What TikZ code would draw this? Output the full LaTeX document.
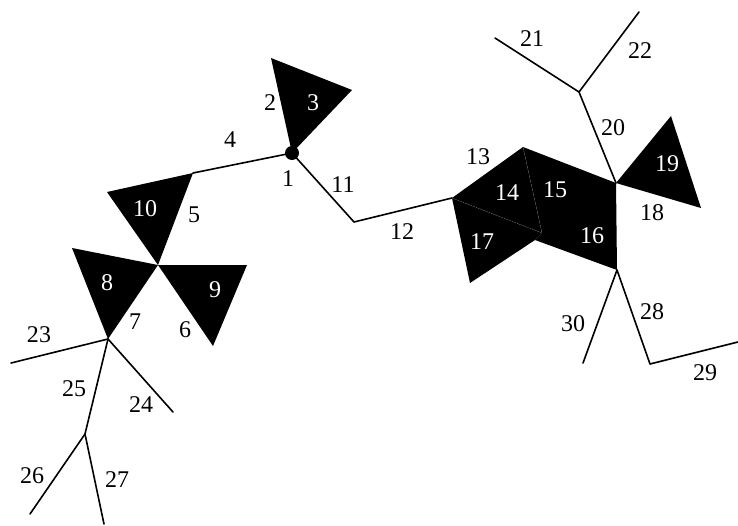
\documentclass[tikz,border=0pt]{standalone}
\usepackage{fontspec}
\setmainfont{Liberation Serif}
\begin{document}
\begin{tikzpicture}[x=1pt,y=-1pt,
  edge/.style={line width=1.6pt, line cap=round, line join=round},
  tri/.style={fill=black},
  seam/.style={draw=black!55, line width=0.4pt, dash pattern=on 1pt off 1pt},
  lbl/.style={font=\fontsize{24}{28}\selectfont, inner sep=0pt},
  wl/.style={lbl, text=white}]
\useasboundingbox (0,0) rectangle (738,525);
% vertices
\coordinate (v1) at (292,153);
\coordinate (t3a) at (271,58);
\coordinate (t3b) at (352,90);
\coordinate (v4) at (193,173);
\coordinate (t10a) at (107,192);
\coordinate (v5) at (158,265);
\coordinate (t8a) at (72,248);
\coordinate (v7) at (108,339);
\coordinate (t9a) at (247,265);
\coordinate (t9b) at (213,346);
\coordinate (v23) at (11,363);
\coordinate (v24) at (173,412);
\coordinate (v25) at (85,434);
\coordinate (v26) at (30,514);
\coordinate (v27) at (104,524);
\coordinate (v11) at (354,222);
\coordinate (vA) at (452,198);
\coordinate (vB) at (523,147);
\coordinate (vC) at (616,183);
\coordinate (vD) at (617,270);
\coordinate (vE) at (535,240);
\coordinate (vF) at (470,283);
\coordinate (vP) at (542,233);
\coordinate (t19a) at (671,116);
\coordinate (t19b) at (701,208);
\coordinate (v20) at (579,92);
\coordinate (v21) at (495,38);
\coordinate (v22) at (639,12);
\coordinate (v30) at (583,363);
\coordinate (v28) at (650,364);
\coordinate (v29) at (738,342);
% filled triangles
\fill[tri] (v1) -- (t3a) -- (t3b) -- cycle;
\fill[tri] (t10a) -- (v4) -- (v5) -- cycle;
\fill[tri] (t8a) -- (v5) -- (v7) -- cycle;
\fill[tri] (v5) -- (t9a) -- (t9b) -- cycle;
\fill[tri] (vC) -- (t19a) -- (t19b) -- cycle;
\fill[tri] (vA) -- (vB) -- (vP) -- cycle;
\fill[tri] (vB) -- (vC) -- (vD) -- (vE) -- (vP) -- cycle;
\fill[tri] (vA) -- (vP) -- (vE) -- (vF) -- cycle;
\draw[seam] (vA) -- (vP);
\draw[seam] (vB) -- (vP);
% edges
\draw[edge] (v1) -- (v4);
\draw[edge] (v1) -- (v11) -- (vA);
\draw[edge] (v7) -- (v23);
\draw[edge] (v7) -- (v24);
\draw[edge] (v7) -- (v25) -- (v26);
\draw[edge] (v25) -- (v27);
\draw[edge] (vC) -- (v20) -- (v21);
\draw[edge] (v20) -- (v22);
\draw[edge] (vD) -- (v30);
\draw[edge] (vD) -- (v28) -- (v29);
\fill (v1) circle (7);
% labels
\node[lbl] (l1) at (288,179) {1};
\node[lbl] (l2) at (270,103) {2};
\node[wl] (l3) at (313,103) {3};
\node[lbl] (l4) at (230,140) {4};
\node[lbl] (l5) at (194,215) {5};
\node[lbl] (l6) at (185,330) {6};
\node[lbl] (l7) at (135,322) {7};
\node[wl] (l8) at (107,283) {8};
\node[wl] (l9) at (215,290) {9};
\node[wl] (l10) at (145,209) {10};
\node[lbl] (l11) at (343,185) {11};
\node[lbl] (l12) at (402,232) {12};
\node[lbl] (l13) at (478,157) {13};
\node[wl] (l14) at (507,193) {14};
\node[wl] (l15) at (555,190) {15};
\node[wl] (l16) at (592,236) {16};
\node[wl] (l17) at (482,242) {17};
\node[lbl] (l18) at (652,213) {18};
\node[wl] (l19) at (667,164) {19};
\node[lbl] (l20) at (613,128) {20};
\node[lbl] (l21) at (532,39) {21};
\node[lbl] (l22) at (640,51) {22};
\node[lbl] (l23) at (39,335) {23};
\node[lbl] (l24) at (141,405) {24};
\node[lbl] (l25) at (74,389) {25};
\node[lbl] (l26) at (32,476) {26};
\node[lbl] (l27) at (117,480) {27};
\node[lbl] (l28) at (652,312) {28};
\node[lbl] (l29) at (705,373) {29};
\node[lbl] (l30) at (573,324) {30};
\end{tikzpicture}
\end{document}
